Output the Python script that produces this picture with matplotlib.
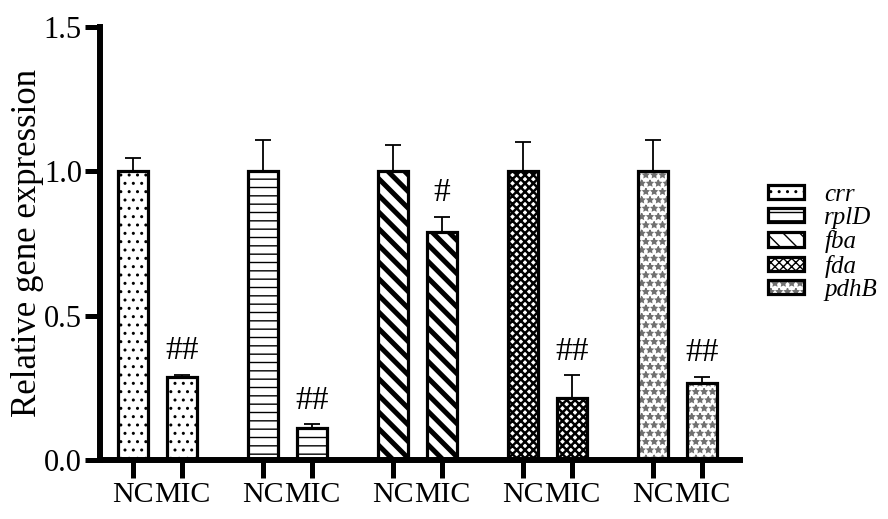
import numpy as np
import matplotlib
matplotlib.use("Agg")
import matplotlib.pyplot as plt
from matplotlib.legend_handler import HandlerTuple

# data
genes = ["crr", "rplD", "fba", "fda", "pdhB"]
groups = ["NC", "MIC"]
nc_vals = [1.0, 1.0, 1.0, 1.0, 1.0]
nc_err = [0.045, 0.108, 0.09, 0.10, 0.108]
mic_vals = [0.286, 0.111, 0.79, 0.216, 0.265]
mic_err = [0.01, 0.013, 0.053, 0.077, 0.024]
sig_marks = ["##", "##", "#", "##", "##"]

hatches = ["..", "--", "\\\\", "xxxx", "**"]
hatch_lw = [1.0, 1.0, 3.6, 1.8, 1.0]
hatch_col = ["black", "black", "black", "black", "#707070"]

plt.rcParams["font.family"] = ["Liberation Serif", "DejaVu Serif"]

fig = plt.figure(figsize=(8.88, 5.19), dpi=100, facecolor="white")
ax = fig.add_axes([0.1126, 0.1137, 0.7207, 0.8343])

offset, width = 0.1885, 0.23
x = np.arange(len(genes))
tick_pos, tick_lab = [], []
handles = []
for i, g in enumerate(genes):
    for j, (v, e) in enumerate([(nc_vals[i], nc_err[i]), (mic_vals[i], mic_err[i])]):
        xp = x[i] + (offset if j else -offset)
        ax.errorbar(xp, v, yerr=[[0], [e]], color="black", elinewidth=1.3,
                    capsize=5.5, capthick=1.3, zorder=1)
        fill = ax.bar(xp, v, width, facecolor="white", edgecolor=hatch_col[i],
                      linewidth=0, hatch=hatches[i], zorder=2)
        for p in fill:
            if hasattr(p, "set_hatch_linewidth"):
                p.set_hatch_linewidth(hatch_lw[i])
        outline = ax.bar(xp, v, width, fill=False, edgecolor="black",
                         linewidth=2.3, zorder=3)
        if j == 0:
            handles.append((fill[0], outline[0]))
        tick_pos.append(xp)
        tick_lab.append(groups[j])
    ax.text(x[i] + offset, mic_vals[i] + mic_err[i] + 0.03, sig_marks[i],
            ha="center", va="bottom", fontsize=24)

ax.set_xlim(-0.442, 4.48)
ax.set_ylim(0, 1.5)
ax.set_yticks([0, 0.5, 1.0, 1.5])
ax.set_yticklabels(["0.0", "0.5", "1.0", "1.5"])
ax.set_xticks(tick_pos)
ax.set_xticklabels(tick_lab)
ax.tick_params(axis="y", length=11, width=3.6, labelsize=22, pad=2)
ax.tick_params(axis="x", length=13, width=3.6, labelsize=21.5, pad=3)
for s in ["top", "right"]:
    ax.spines[s].set_visible(False)
for s in ["left", "bottom"]:
    ax.spines[s].set_linewidth(4.3)
ax.set_ylabel("Relative gene expression", fontsize=25, labelpad=0)

leg = ax.legend(handles, genes, loc="upper left", bbox_to_anchor=(0.851, 0.67),
                bbox_transform=fig.transFigure, frameon=False,
                handler_map={tuple: HandlerTuple(ndivide=1)},
                prop={"family": "Liberation Serif", "style": "italic", "size": 18},
                handlelength=1.45, handleheight=0.5, handletextpad=0.8,
                labelspacing=0.05, borderpad=0)

fig.savefig("out.png", dpi=100, facecolor="white")
